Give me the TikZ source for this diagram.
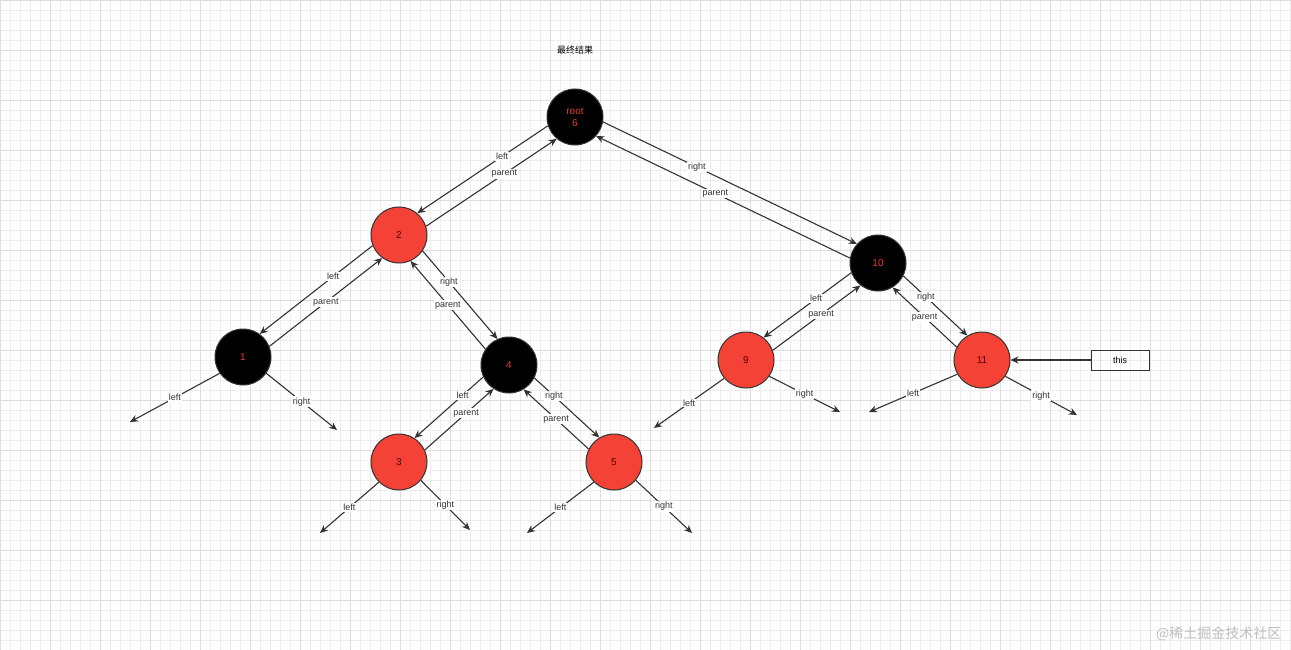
\documentclass[tikz,border=0pt]{standalone}
\usepackage{fontspec}
\usetikzlibrary{arrows.meta}
\setmainfont{Liberation Sans}
\newfontfamily\cjk{Noto Sans CJK SC}
\begin{document}
\begin{tikzpicture}[x=1pt,y=-1pt,
  rb/.style={circle,draw=black!80,line width=1pt,minimum size=56pt,inner sep=0pt,font=\fontsize{10}{12}\selectfont},
  blk/.style={rb,fill=black,text={rgb,255:red,230;green,60;blue,50}},
  red/.style={rb,fill={rgb,255:red,244;green,67;blue,54},text=black!70!red},
  ar/.style={-{Stealth[length=8pt,width=7pt]},line width=1.1pt,draw=black!80},
  lb/.style={fill=white,inner sep=1pt,font=\fontsize{9}{10}\selectfont,text=black!80}]
\useasboundingbox (0,0) rectangle (1291,650);
\fill[white] (0,0) rectangle (1291,650);
\foreach \i in {0,10,...,1290} \draw[black!7,line width=0.4pt] (\i,0) -- (\i,650);
\foreach \i in {0,10,...,650} \draw[black!7,line width=0.4pt] (0,\i) -- (1291,\i);
\foreach \i in {0,50,...,1290} \draw[black!13,line width=0.5pt] (\i,0) -- (\i,650);
\foreach \i in {0,50,...,650} \draw[black!13,line width=0.5pt] (0,\i) -- (1291,\i);
\node[font=\cjk\fontsize{9}{10}\selectfont] (title) at (575,50) {最终结果};
\node[blk,align=center] (r) at (575,117) {root\\6};
\node[red] (n2) at (399,235) {2};
\node[blk] (n10) at (878,263) {10};
\node[blk] (n1) at (243,357) {1};
\node[blk] (n4) at (509,365) {4};
\node[red] (n9) at (746,360) {9};
\node[red] (n11) at (982,360) {11};
\node[red] (n3) at (399,462) {3};
\node[red] (n5) at (614,462) {5};
\node[draw=black!80,line width=1pt,minimum width=58pt,minimum height=20pt,inner sep=0pt,font=\fontsize{9}{10}\selectfont] (this) at (1120,360) {this};
\foreach \n/\x/\y in {a1/130/422,a2/337/430,a3/320/533,a4/470/530,a5/527/533,a6/692/533,a7/654/428,a8/840/412,a9/869/412,a10/1077/415}
  \coordinate (\n) at (\x,\y);
% pairs
\draw[ar] (r.198) -- node[lb,pos=0.35]{left} (n2.50);
\draw[ar] (n2.18) -- node[lb,pos=0.6]{parent} (r.230);
\draw[ar] (r.-10) -- node[lb,pos=0.37]{right} (n10.138);
\draw[ar] (n10.170) -- node[lb,pos=0.53]{parent} (r.-42);
\draw[ar] (n2.202) -- node[lb,pos=0.35]{left} (n1.54);
\draw[ar] (n1.22) -- node[lb,pos=0.5]{parent} (n2.234);
\draw[ar] (n2.-34) -- node[lb,pos=0.35]{right} (n4.114);
\draw[ar] (n4.146) -- node[lb,pos=0.5]{parent} (n2.-66);
\draw[ar] (n4.205) -- node[lb,pos=0.3]{left} (n3.57);
\draw[ar] (n3.25) -- node[lb,pos=0.6]{parent} (n4.237);
\draw[ar] (n4.-27) -- node[lb,pos=0.3]{right} (n5.121);
\draw[ar] (n5.153) -- node[lb,pos=0.5]{parent} (n4.-59);
\draw[ar] (n10.200) -- node[lb,pos=0.4]{left} (n9.52);
\draw[ar] (n9.20) -- node[lb,pos=0.55]{parent} (n10.232);
\draw[ar] (n10.-27) -- node[lb,pos=0.35]{right} (n11.121);
\draw[ar] (n11.153) -- node[lb,pos=0.5]{parent} (n10.-59);
% dangling
\draw[ar] (n1.215) -- node[lb]{left} (a1);
\draw[ar] (n1.-35) -- node[lb]{right} (a2);
\draw[ar] (n3.225) -- node[lb]{left} (a3);
\draw[ar] (n3.-40) -- node[lb]{right} (a4);
\draw[ar] (n5.225) -- node[lb]{left} (a5);
\draw[ar] (n5.-40) -- node[lb]{right} (a6);
\draw[ar] (n9.220) -- node[lb]{left} (a7);
\draw[ar] (n9.-35) -- node[lb]{right} (a8);
\draw[ar] (n11.210) -- node[lb]{left} (a9);
\draw[ar] (n11.-35) -- node[lb]{right} (a10);
\draw[ar] (this.west) -- (n11.east);
\node[font=\cjk\fontsize{14}{16}\selectfont,text=black!25,anchor=east] (wm) at (1285,634) {@稀土掘金技术社区};
\end{tikzpicture}
\end{document}
